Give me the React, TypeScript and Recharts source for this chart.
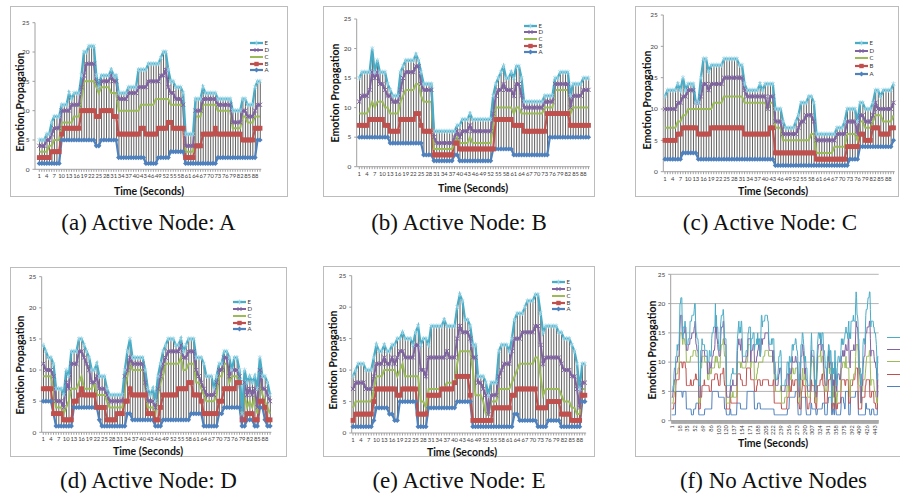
import React from 'react';
import { ComposedChart, LineChart, Line, Bar, XAxis, YAxis, CartesianGrid } from 'recharts';

// time axis (seconds) for the single-run panels and for the combined run
const seconds = Array.from({ length: 90 }, (_, i) => i + 1);
const allSeconds = Array.from({ length: 450 }, (_, i) => i + 1);
const yTicks = [0, 5, 10, 15, 20, 25];

// (a) Active Node: A
const aE = [5,5,5,6,6,8,9,9,9,11, 11,11,13,12,13,13,13,16,20,20, 21,21,21,16,14,16,16,16,16,17, 16,16,13,13,13,13,14,14,14,14, 17,17,17,17,18,18,18,18,18,19, 20,20,17,15,15,14,14,14,13,6, 6,6,6,12,12,12,14,13,13,13, 13,13,12,12,12,12,12,12,10,10, 10,10,12,12,11,11,11,14,15,15];
const aD = [4,4,4,5,5,6,7,7,7,10, 10,10,10,11,11,11,11,14,16,18, 18,18,18,15,14,15,15,15,15,16, 15,15,12,12,12,12,13,13,13,13, 14,14,14,14,15,15,15,15,15,16, 16,17,14,13,13,12,12,12,11,4, 4,4,4,10,10,10,12,12,12,12, 12,12,11,11,11,11,11,11,8,8, 8,8,10,10,9,9,9,10,11,11];
const aC = [3,3,3,3,4,4,5,5,5,8, 8,8,8,8,9,9,9,12,15,15, 15,15,15,14,13,14,14,14,14,13, 13,13,10,10,10,10,10,10,10,10, 10,11,11,11,11,11,11,12,12,12, 12,12,12,11,11,11,11,11,11,3, 3,3,3,9,9,9,11,11,11,11, 11,11,10,10,10,10,10,10,7,7, 7,7,9,9,8,8,8,9,9,9];
const aB = [2,2,2,2,2,3,3,3,3,6, 7,7,7,7,7,7,7,10,10,10, 10,10,10,9,9,10,10,10,10,10, 9,9,6,6,6,6,6,6,6,6, 6,7,7,6,6,6,6,6,7,7, 7,7,8,8,7,7,7,7,7,2, 2,2,2,4,4,4,6,6,6,6, 6,7,6,6,6,6,6,6,6,6, 6,6,5,5,5,5,5,7,7,7];
const aA = [1,1,1,1,1,1,1,1,1,5, 5,5,5,5,5,5,5,5,5,5, 5,5,5,4,4,5,5,5,5,5, 5,5,2,2,2,2,2,2,2,2, 2,2,2,1,1,1,1,1,2,2, 2,2,2,3,3,3,3,3,3,1, 1,1,1,1,1,1,1,1,1,1, 1,1,2,2,2,2,2,2,2,2, 2,2,2,2,2,2,2,2,5,5];

// (b) Active Node: B
const bE = [15,16,16,16,16,20,16,18,16,16, 16,14,13,12,12,12,16,17,18,18, 18,18,19,18,16,14,14,14,14,6, 6,6,6,6,6,6,6,6,7,7, 8,8,8,9,8,8,8,8,8,8, 8,8,12,14,15,16,17,15,15,16, 15,17,17,15,11,11,11,11,11,11, 11,11,12,12,12,12,15,15,16,16, 16,16,12,14,14,14,14,15,15,15];
const bD = [11,12,12,12,13,16,15,16,14,14, 13,12,12,11,11,11,13,15,16,16, 16,16,17,17,14,13,13,13,13,5, 4,4,4,4,4,4,4,5,6,5, 6,6,6,7,6,6,6,6,6,6, 6,6,9,12,13,13,14,13,13,13, 12,14,14,12,10,10,10,10,10,10, 10,10,11,11,11,11,14,14,14,14, 14,14,10,12,12,12,12,13,13,13];
const bC = [9,9,9,9,10,11,10,11,11,11, 10,10,9,9,9,9,11,12,13,13, 13,13,14,14,12,11,11,11,11,3, 3,3,3,3,3,3,3,4,5,4, 4,4,4,5,4,4,4,4,4,4, 4,4,7,10,10,10,10,10,10,10, 9,10,10,9,9,9,9,9,9,9, 9,9,10,10,10,10,13,13,13,13, 13,13,9,10,10,10,10,10,10,10];
const bB = [7,7,7,7,8,8,8,8,8,8, 7,7,6,6,6,6,8,8,8,8, 8,8,9,9,7,6,6,6,6,2, 2,2,2,2,2,2,2,4,4,3, 3,3,3,3,3,3,3,3,3,3, 3,3,3,8,8,8,8,8,8,8, 7,7,7,7,6,6,6,6,6,6, 6,6,6,9,9,9,9,9,9,9, 9,9,7,7,7,7,7,7,7,7];
const bA = [5,5,5,5,5,5,5,5,5,5, 5,5,4,4,4,4,4,4,4,4, 4,4,4,4,4,2,2,2,2,1, 1,1,1,1,1,1,1,2,2,1, 1,1,1,1,1,1,1,1,1,1, 1,1,3,3,3,3,3,3,3,3, 2,2,2,2,2,2,2,2,2,2, 2,2,2,2,5,5,5,5,5,5, 5,5,5,5,5,5,5,5,5,5];

// (c) Active Node: C
const cE = [12,13,13,13,13,14,13,15,13,14, 14,14,11,11,15,18,18,16,17,17, 17,17,17,18,18,18,18,18,18,17, 17,14,13,13,13,13,13,14,13,14, 14,14,14,10,10,10,8,7,7,7, 7,8,9,11,11,11,12,12,11,6, 6,6,6,6,6,6,6,7,7,7, 8,10,10,10,10,8,11,11,10,10, 10,11,13,13,12,13,13,13,13,14];
const cD = [10,10,10,10,10,11,11,12,12,13, 13,13,11,11,12,14,14,13,14,14, 14,14,14,15,15,15,15,15,15,15, 15,13,12,12,12,12,12,12,12,12, 10,12,12,8,8,8,6,6,6,6, 6,6,7,8,8,9,9,9,8,5, 5,5,5,5,5,5,5,6,6,6, 6,8,8,8,8,6,9,9,8,8, 8,9,11,10,10,10,10,10,10,11];
const cC = [7,7,7,7,7,8,8,9,9,10, 10,10,10,10,10,10,10,10,10,11, 11,11,11,12,12,12,12,12,12,12, 12,11,11,11,11,11,11,11,11,11, 10,11,11,7,7,7,5,5,5,5, 5,5,5,5,5,5,5,6,6,3, 3,3,3,3,3,3,4,4,4,4, 4,6,6,6,6,5,8,8,7,7, 7,8,9,9,9,8,8,8,8,9];
const cB = [5,5,5,5,5,6,6,7,7,7, 7,7,7,6,6,6,6,6,7,7, 7,7,7,7,7,7,7,7,7,7, 7,6,6,6,6,6,6,6,6,6, 6,7,7,3,3,3,3,3,3,3, 3,3,3,3,3,3,3,3,3,2, 2,2,2,2,2,2,2,2,2,2, 2,4,4,4,4,4,6,6,5,5, 5,7,7,7,6,6,6,6,7,7];
const cA = [2,2,2,2,2,2,2,3,3,3, 3,3,3,2,2,2,2,2,2,2, 2,2,2,2,2,2,2,2,2,2, 2,2,2,2,2,2,2,2,2,2, 2,2,2,1,1,1,1,1,1,1, 1,1,1,1,1,1,1,1,1,1, 1,1,1,1,1,1,1,1,1,1, 1,1,2,2,2,2,4,4,4,4, 4,4,4,4,4,4,4,4,4,5];

// (d) Active Node: D
const dE = [14,13,12,12,11,7,7,7,6,10, 9,13,13,13,15,15,14,13,12,10, 10,11,9,9,9,7,6,6,6,6, 6,6,10,13,15,12,12,12,12,12, 10,7,6,7,5,9,11,13,14,15, 15,15,14,14,15,13,14,15,15,15, 12,12,12,11,9,9,9,7,9,11, 11,13,13,12,10,12,12,10,3,10, 8,9,8,9,7,12,9,9,8,6];
const dD = [11,10,10,10,9,5,5,5,4,8, 7,11,11,11,13,13,12,11,10,8, 8,9,7,7,7,6,5,5,5,5, 5,5,9,10,12,11,11,11,11,11, 8,5,5,5,4,7,9,11,12,13, 13,13,13,13,14,12,12,13,13,13, 10,9,8,7,6,6,6,6,8,10, 10,12,12,9,10,10,10,9,2,8, 6,7,6,7,4,10,7,7,6,5];
const dC = [9,9,9,9,7,4,4,4,3,4, 5,7,7,7,8,9,7,7,7,7, 8,6,6,6,6,5,4,4,4,4, 4,4,7,9,11,10,10,10,10,10, 7,4,4,4,3,6,8,9,11,11, 11,11,11,11,12,10,10,11,11,11, 8,8,7,6,5,5,5,5,6,9, 9,11,11,8,9,9,9,8,2,6, 4,5,4,6,3,8,6,5,4,3];
const dB = [7,7,7,7,3,3,3,3,2,2, 2,2,5,5,6,7,6,6,6,6, 6,4,4,4,4,2,2,2,2,3, 3,3,5,5,7,6,6,6,6,6, 6,3,3,3,2,2,4,6,6,6, 6,6,6,7,7,7,7,8,8,6, 6,6,5,3,3,3,3,3,3,5, 5,7,7,7,7,7,8,8,2,2, 3,3,3,2,2,5,5,4,2,2];
const dA = [5,5,5,5,3,1,1,1,1,1, 1,1,4,4,4,4,4,4,4,4, 4,4,2,1,1,1,1,1,1,1, 1,1,1,3,3,2,2,2,2,2, 2,2,2,2,1,1,1,2,2,2, 2,2,2,2,2,2,2,2,3,3, 3,3,3,1,1,1,1,1,1,3, 3,4,4,4,4,4,4,4,1,1, 2,2,2,1,1,4,4,2,1,1];

// (e) Active Node: E
const eE = [9,10,11,11,11,10,10,10,12,14, 13,13,14,13,13,14,14,15,15,16, 15,15,15,14,16,17,14,15,15,14, 17,17,17,17,17,18,17,17,17,17, 20,22,21,18,18,17,14,14,9,9, 9,8,6,8,8,8,13,14,14,14, 13,15,18,19,19,19,20,21,21,21, 22,22,19,16,17,17,17,17,17,16, 16,15,15,15,14,13,11,7,11,11];
const eD = [7,8,8,8,8,7,7,7,9,11, 11,11,12,11,11,12,11,12,13,13, 12,12,12,12,14,14,10,10,9,12, 12,12,12,12,12,12,13,12,12,12, 15,17,16,16,16,15,12,12,8,8, 7,6,3,6,6,6,9,10,11,11, 11,13,15,15,15,16,16,16,16,16, 17,17,14,11,12,12,12,12,12,12, 11,10,10,10,9,9,7,4,8,8];
const eC = [4,5,5,5,5,5,5,5,7,9, 9,9,10,10,10,10,10,9,10,11, 9,9,9,9,9,9,5,5,4,7, 7,7,7,7,7,7,8,8,8,8, 11,13,13,13,13,13,10,6,6,6, 5,3,3,5,5,5,7,7,7,7, 7,8,9,10,11,11,11,11,11,11, 12,12,9,6,7,7,7,7,7,7, 6,5,5,5,4,4,3,3,7,7];
const eB = [2,3,3,3,3,3,3,3,5,7, 7,7,7,7,7,7,7,6,6,7, 7,7,7,7,7,3,3,3,3,6, 6,6,6,6,7,7,7,7,7,8, 9,9,9,9,9,6,2,2,2,2, 2,2,2,2,4,4,4,4,4,4, 4,6,6,7,7,7,7,7,7,7, 7,4,4,4,4,5,5,5,5,5, 3,3,3,3,2,2,2,2,6,6];
const eA = [1,1,1,1,1,1,1,1,2,4, 4,4,4,4,3,3,2,2,5,5, 5,5,5,5,5,1,1,1,1,4, 4,4,4,4,4,4,4,4,4,4, 5,5,5,5,5,5,1,1,1,1, 1,1,1,1,1,1,1,1,1,1, 1,1,3,3,2,2,2,2,2,2, 2,1,1,1,1,2,2,2,2,2, 1,1,1,1,1,1,1,1,5,5];

const COLORS: Record<string, string> = {
  A: '#4F81BD',
  B: '#C0504D',
  C: '#9BBB59',
  D: '#8064A2',
  E: '#4BACC6',
};
const legendOrder = ['E', 'D', 'C', 'B', 'A'];

type Series = { A: number[]; B: number[]; C: number[]; D: number[]; E: number[] };

// ---- markers ----
function Diamond({ cx, cy, s = 2.6 }: any) {
  if (cx == null || cy == null) return null;
  return <path d={`M${cx},${cy - s}L${cx + s},${cy}L${cx},${cy + s}L${cx - s},${cy}Z`} fill={COLORS.A} />;
}
function Square({ cx, cy, s = 2.4 }: any) {
  if (cx == null || cy == null) return null;
  return <rect x={cx - s} y={cy - s} width={s * 2} height={s * 2} fill={COLORS.B} />;
}
function Cross({ cx, cy, s = 2.1 }: any) {
  if (cx == null || cy == null) return null;
  return (
    <path d={`M${cx - s},${cy - s}L${cx + s},${cy + s}M${cx - s},${cy + s}L${cx + s},${cy - s}`} stroke={COLORS.D} strokeWidth={1} />
  );
}
function Star({ cx, cy, s = 2.6 }: any) {
  if (cx == null || cy == null) return null;
  const d = s * 0.7;
  return (
    <path
      d={`M${cx},${cy - s}L${cx},${cy + s}M${cx - d},${cy - d}L${cx + d},${cy + d}M${cx - d},${cy + d}L${cx + d},${cy - d}`}
      stroke="#9ad7e8"
      strokeWidth={0.8}
    />
  );
}

const dotFor: Record<string, any> = {
  A: (p: any) => <Diamond key={`a${p.index}`} {...p} />,
  B: (p: any) => <Square key={`b${p.index}`} {...p} />,
  C: false,
  D: (p: any) => <Cross key={`d${p.index}`} {...p} />,
  E: (p: any) => <Star key={`e${p.index}`} {...p} />,
};
const widthFor: Record<string, number> = { A: 2.2, B: 2.2, C: 2, D: 2, E: 2.3 };

// x labels on every third second, tick marks on all
function EveryThird(props: any) {
  const { x, y, payload, index } = props;
  if (index % 3 !== 0) return <g />;
  return (
    <text x={x} y={y} dy={4.6} textAnchor="middle" fontSize={5.8} fill="#404040">
      {payload.value}
    </text>
  );
}

function EverySeventeenth(props: any) {
  const { x, y, payload, index } = props;
  if (index % 17 !== 0) return <g />;
  return (
    <text x={x} y={y} dy={2} textAnchor="end" fontSize={5.6} fill="#404040" transform={`rotate(-90 ${x} ${y})`}>
      {payload.value}
    </text>
  );
}

function LegendMark({ k }: { k: string }) {
  const cy = 3;
  return (
    <svg width={13} height={6} style={{ display: 'block' }}>
      <line x1={0} y1={cy} x2={13} y2={cy} stroke={COLORS[k]} strokeWidth={widthFor[k]} />
      {k === 'A' && <Diamond cx={6.5} cy={cy} s={2.4} />}
      {k === 'B' && <Square cx={6.5} cy={cy} s={2.2} />}
      {k === 'D' && <Cross cx={6.5} cy={cy} s={2} />}
      {k === 'E' && <Star cx={6.5} cy={cy} s={2.4} />}
    </svg>
  );
}

function SeriesLegend({ x, y, gap }: { x: number; y: number; gap: number }) {
  return (
    <div style={{ position: 'absolute', left: x, top: y - gap / 2, fontFamily: 'Lato', fontSize: 6, color: '#333' }}>
      {legendOrder.map((k) => (
        <div key={k} style={{ display: 'flex', alignItems: 'center', height: gap }}>
          <LegendMark k={k} />
          <span style={{ marginLeft: 1.5, lineHeight: 1 }}>{k}</span>
        </div>
      ))}
    </div>
  );
}

function Frame({ l, t, r, b }: { l: number; t: number; r: number; b: number }) {
  return <div style={{ position: 'absolute', left: l, top: t, width: r - l, height: b - t, border: '1px solid #bcbcbc', boxSizing: 'border-box' }} />;
}

function YTitle({ cx, cy }: { cx: number; cy: number }) {
  return (
    <div
      style={{
        position: 'absolute',
        left: cx,
        top: cy,
        transform: 'translate(-50%, -50%) rotate(-90deg)',
        whiteSpace: 'nowrap',
        fontFamily: 'Lato',
        fontWeight: 700,
        fontSize: 10.5,
        color: '#111',
      }}
    >
      Emotion Propagation
    </div>
  );
}

function XTitle({ cx, cy }: { cx: number; cy: number }) {
  return (
    <div
      style={{
        position: 'absolute',
        left: cx,
        top: cy,
        transform: 'translate(-50%, -50%)',
        whiteSpace: 'nowrap',
        fontFamily: 'Lato',
        fontWeight: 700,
        fontSize: 10.5,
        color: '#111',
      }}
    >
      Time (Seconds)
    </div>
  );
}

function Caption({ cx, top, text }: { cx: number; top: number; text: string }) {
  return (
    <div
      style={{
        position: 'absolute',
        left: cx - 150,
        width: 300,
        top,
        textAlign: 'center',
        fontFamily: '"Liberation Serif", "Times New Roman", serif',
        fontSize: 23,
        lineHeight: '23px',
        color: '#111',
        whiteSpace: 'nowrap',
      }}
    >
      {text}
    </div>
  );
}

type PanelCfg = {
  frame: [number, number, number, number];
  axisX: number;
  y0: number;
  y25: number;
  x1: number;
  step: number;
  series: Series;
  legend: { x: number; y: number; gap: number };
  yTitle: [number, number];
  xTitle: [number, number];
  caption: { cx: number; top: number; text: string };
};

function NodePanel({ cfg }: { cfg: PanelCfg }) {
  const [l, t, r, b] = cfg.frame;
  const padL = Math.max(0, cfg.x1 - cfg.axisX - cfg.step / 2);
  const bandEnd = cfg.axisX + padL + 90 * cfg.step;
  const s = cfg.series;
  const rows = seconds.map((sec, i) => {
    const v = [s.A[i], s.B[i], s.C[i], s.D[i], s.E[i]];
    return { t: sec, A: s.A[i], B: s.B[i], C: s.C[i], D: s.D[i], E: s.E[i], hl: [Math.min(...v), Math.max(...v)] };
  });
  return (
    <>
      <Frame l={l} t={t} r={r} b={b} />
      <div style={{ position: 'absolute', left: l, top: t, fontFamily: 'Lato' }}>
        <ComposedChart
          width={r - l}
          height={b - t}
          data={rows}
          margin={{ top: cfg.y25 - t, right: r - bandEnd, bottom: 0, left: 0 }}
        >
          <XAxis
            dataKey="t"
            type="category"
            scale="band"
            interval={0}
            padding={{ left: padL, right: 0 }}
            height={b - cfg.y0}
            tickSize={2.5}
            tickMargin={2}
            tickLine={{ stroke: '#a0a0a0' }}
            axisLine={{ stroke: '#a0a0a0' }}
            tick={<EveryThird />}
          />
          <YAxis
            type="number"
            domain={[0, 25]}
            ticks={yTicks}
            width={cfg.axisX - l}
            tickSize={2.5}
            tickMargin={3}
            tickLine={{ stroke: '#a0a0a0' }}
            axisLine={{ stroke: '#a0a0a0' }}
            tick={{ fontSize: 6.5, fill: '#404040' }}
            allowDataOverflow
          />
          <Bar dataKey="hl" barSize={1} fill="#606060" isAnimationActive={false} />
          {['A', 'B', 'C', 'D', 'E'].map((k) => (
            <Line
              key={k}
              type="linear"
              dataKey={k}
              stroke={COLORS[k]}
              strokeWidth={widthFor[k]}
              dot={dotFor[k]}
              activeDot={false}
              isAnimationActive={false}
            />
          ))}
        </ComposedChart>
      </div>
      <SeriesLegend {...cfg.legend} />
      <YTitle cx={cfg.yTitle[0]} cy={cfg.yTitle[1]} />
      <XTitle cx={cfg.xTitle[0]} cy={cfg.xTitle[1]} />
      <Caption {...cfg.caption} />
    </>
  );
}

function NoActivePanel() {
  const [l, t, r, b] = [635, 266, 902, 457];
  const axisX = 670.7;
  const y0 = 420.7;
  const y25 = 274.3;
  const x1 = 671.7;
  const xLast = 878.2;
  const padR = 0.5;
  const fA = [...aA, ...bA, ...cA, ...dA, ...eA];
  const fB = [...aB, ...bB, ...cB, ...dB, ...eB];
  const fC = [...aC, ...bC, ...cC, ...dC, ...eC];
  const fD = [...aD, ...bD, ...cD, ...dD, ...eD];
  const fE = [...aE, ...bE, ...cE, ...dE, ...eE];
  const rows = allSeconds.map((sec, i) => ({ t: sec, A: fA[i], B: fB[i], C: fC[i], D: fD[i], E: fE[i] }));
  const legendTops = [337, 349, 361, 374, 386];
  return (
    <>
      <Frame l={l} t={t} r={r} b={b} />
      <div style={{ position: 'absolute', left: l, top: t, fontFamily: 'Lato' }}>
        <LineChart
          width={r - l}
          height={b - t}
          data={rows}
          margin={{ top: y25 - t, right: r - xLast - padR, bottom: 0, left: 0 }}
        >
          <CartesianGrid vertical={false} stroke="#b4b4b4" />
          <XAxis
            dataKey="t"
            type="category"
            scale="point"
            interval={0}
            padding={{ left: x1 - axisX, right: padR }}
            height={b - y0}
            tickSize={3}
            tickMargin={1.5}
            tickLine={{ stroke: '#a8a8a8' }}
            axisLine={{ stroke: '#a0a0a0' }}
            tick={<EverySeventeenth />}
          />
          <YAxis
            type="number"
            domain={[0, 25]}
            ticks={yTicks}
            width={axisX - l}
            tickSize={2.5}
            tickMargin={3}
            tickLine={{ stroke: '#a0a0a0' }}
            axisLine={{ stroke: '#a0a0a0' }}
            tick={{ fontSize: 6.5, fill: '#404040' }}
          />
          {['A', 'B', 'C', 'D', 'E'].map((k) => (
            <Line
              key={k}
              type="linear"
              dataKey={k}
              stroke={COLORS[k]}
              strokeWidth={1}
              dot={false}
              activeDot={false}
              isAnimationActive={false}
            />
          ))}
        </LineChart>
      </div>
      {legendOrder.map((k, i) => (
        <div
          key={k}
          style={{ position: 'absolute', left: 887, top: legendTops[i], width: 14, height: 1, background: COLORS[k] }}
        />
      ))}
      <YTitle cx={652} cy={350} />
      <XTitle cx={773} cy={443} />
      <Caption cx={773.5} top={468.8} text="(f) No Active Nodes" />
    </>
  );
}

const panels: PanelCfg[] = [
  {
    frame: [10, 6, 288, 197], axisX: 35, y0: 169.3, y25: 22.7, x1: 39.3, step: 2.48,
    series: { A: aA, B: aB, C: aC, D: aD, E: aE },
    legend: { x: 250, y: 43.3, gap: 6.8 }, yTitle: [20, 102], xTitle: [149, 191],
    caption: { cx: 148.5, top: 210.8, text: '(a) Active Node: A' },
  },
  {
    frame: [323, 6, 595, 197], axisX: 356.7, y0: 166.7, y25: 19, x1: 359.3, step: 2.575,
    series: { A: bA, B: bB, C: bC, D: bD, E: bE },
    legend: { x: 524, y: 25.7, gap: 6.65 }, yTitle: [335, 93], xTitle: [473, 188],
    caption: { cx: 459, top: 210.8, text: '(b) Active Node: B' },
  },
  {
    frame: [635, 6, 899, 197], axisX: 663.3, y0: 171.7, y25: 15, x1: 665, step: 2.567,
    series: { A: cA, B: cB, C: cC, D: cD, E: cE },
    legend: { x: 855, y: 42.7, gap: 7.9 }, yTitle: [647, 100], xTitle: [773, 191],
    caption: { cx: 770, top: 210.8, text: '(c) Active Node: C' },
  },
  {
    frame: [10, 267, 287, 457], axisX: 41.7, y0: 432.3, y25: 276.7, x1: 43.3, step: 2.548,
    series: { A: dA, B: dB, C: dC, D: dD, E: dE },
    legend: { x: 233, y: 302.3, gap: 6.75 }, yTitle: [20, 365], xTitle: [148, 451],
    caption: { cx: 148.5, top: 468.8, text: '(d) Active Node: D' },
  },
  {
    frame: [323, 266, 595, 457], axisX: 351.7, y0: 433, y25: 275.7, x1: 352.7, step: 2.605,
    series: { A: eA, B: eB, C: eC, D: eD, E: eE },
    legend: { x: 552, y: 282.3, gap: 6.75 }, yTitle: [333, 360], xTitle: [462, 452],
    caption: { cx: 459, top: 468.8, text: '(e) Active Node: E' },
  },
];

export default function App() {
  return (
    <div style={{ position: 'absolute', left: 0, top: 0, width: 900, height: 496, overflow: 'hidden', background: '#fff' }}>
      {panels.map((cfg, i) => (
        <NodePanel key={i} cfg={cfg} />
      ))}
      <NoActivePanel />
    </div>
  );
}
